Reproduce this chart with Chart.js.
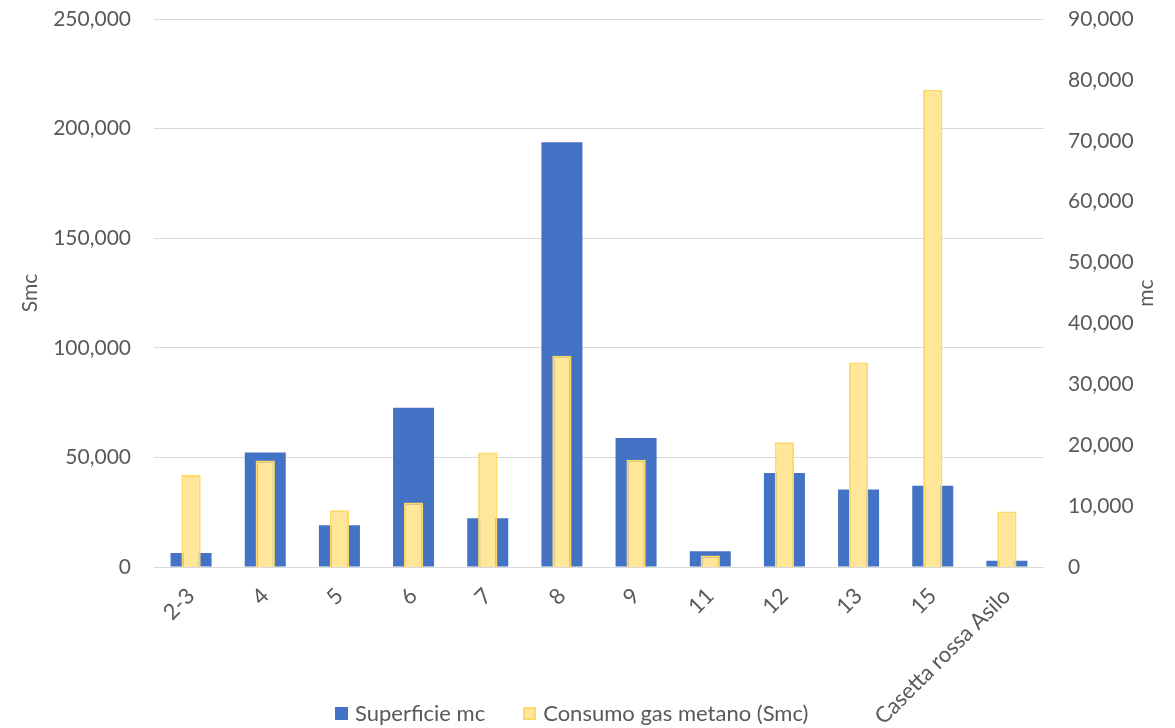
<!DOCTYPE html>
<html>
<head>
<meta charset="utf-8">
<script src="https://cdn.jsdelivr.net/npm/chart.js@4.4.1/dist/chart.umd.min.js"></script>
<style>
    html, body { margin: 0; padding: 0; background: #fff; }
    #wrap { position: relative; width: 1175px; height: 728px; }
    #legend {
        position: absolute; left: 335px; top: 702px;
        display: flex; align-items: center;
        font: 22px/22px Lato, 'Open Sans', sans-serif; color: #595959;
    }
    #legend .item { display: flex; align-items: center; margin-right: 38px; }
    #legend .box { width: 13px; height: 13px; box-sizing: border-box; margin-right: 7px; }
</style>
</head>
<body>
<div id="wrap">
    <canvas id="chart" width="1175" height="728"></canvas>
    <div id="legend"></div>
</div>
<script>
// Edifici
const categories = ['2-3', '4', '5', '6', '7', '8', '9', '11', '12', '13', '15', 'Casetta rossa Asilo'];

// Serie
const superficieMc = [6400, 52200, 19000, 72700, 22200, 193800, 58900, 7200, 42900, 35300, 37100, 2900];
const consumoSmc = [15100, 17500, 9300, 10600, 18800, 34700, 17600, 1900, 20500, 33600, 78400, 9100];

// Assi
const leftAxis = { max: 250000, step: 50000, title: 'Smc' };
const rightAxis = { max: 90000, step: 10000, title: 'mc' };

const TEXT = '#595959';
const FAMILY = "Lato, 'Open Sans', sans-serif";
Chart.defaults.font.family = FAMILY;
Chart.defaults.font.size = 21;
Chart.defaults.color = TEXT;

/**
 * Right axis title, drawn bottom-to-top like the left one
 */
const rightTitlePlugin = {
    id: 'rightTitle',
    afterDraw(chart) {
        const s = chart.scales.y1;
        const area = chart.chartArea;
        const ctx = chart.ctx;
        ctx.save();
        ctx.translate(s.right - 3, (area.top + area.bottom) / 2);
        ctx.rotate(-Math.PI / 2);
        ctx.font = `21px ${FAMILY}`;
        ctx.fillStyle = TEXT;
        ctx.textAlign = 'center';
        ctx.textBaseline = 'middle';
        ctx.fillText(rightAxis.title, 0, 0);
        ctx.restore();
    }
};

// y axes: no extra padding above/below the plot
function fitVertical(width) {
    return scale => {
        scale.width = width;
        scale.paddingTop = 0;
        scale.paddingBottom = 0;
    };
}

const chart = new Chart(document.getElementById('chart'), {
    type: 'bar',
    data: {
        labels: categories,
        datasets: [{
            label: 'Superficie mc',
            data: superficieMc,
            yAxisID: 'y',
            backgroundColor: '#4472c4',
            borderWidth: 0,
            barPercentage: 0.553,
            categoryPercentage: 1,
            grouped: false,
            order: 1
        }, {
            label: 'Consumo gas metano (Smc)',
            data: consumoSmc,
            yAxisID: 'y1',
            backgroundColor: '#ffe699',
            borderColor: '#ffd966',
            borderWidth: 2,
            barPercentage: 0.26,
            categoryPercentage: 1,
            grouped: false,
            order: 0
        }]
    },
    options: {
        responsive: false,
        animation: false,
        locale: 'en-US',
        layout: { padding: { top: 19, right: 26, bottom: 0, left: 0 } },
        plugins: {
            tooltip: { enabled: false },
            legend: { display: false }
        },
        scales: {
            x: {
                grid: { display: false, drawTicks: false },
                border: { display: false },
                ticks: {
                    minRotation: 45, maxRotation: 45, autoSkip: false, padding: 16,
                    font: { size: 22 }
                },
                afterFit(scale) { scale.height = 161; }
            },
            y: {
                position: 'left',
                min: 0,
                max: leftAxis.max,
                ticks: { stepSize: leftAxis.step, padding: 23 },
                grid: { color: '#d9d9d9', lineWidth: 1, drawTicks: false },
                border: { display: false },
                title: { display: true, text: leftAxis.title, padding: { top: 18 } },
                afterFit: fitVertical(154)
            },
            y1: {
                position: 'right',
                min: 0,
                max: rightAxis.max,
                ticks: { stepSize: rightAxis.step, padding: 24 },
                grid: { display: false, drawTicks: false },
                border: { display: false },
                afterFit: fitVertical(105)
            }
        }
    },
    plugins: [rightTitlePlugin]
});

// Legend below the chart
const legend = document.getElementById('legend');
chart.data.datasets.forEach(ds => {
    const item = document.createElement('div');
    item.className = 'item';
    const box = document.createElement('span');
    box.className = 'box';
    box.style.background = ds.backgroundColor;
    if (ds.borderWidth) box.style.border = `${ds.borderWidth}px solid ${ds.borderColor}`;
    const text = document.createElement('span');
    text.textContent = ds.label;
    item.appendChild(box);
    item.appendChild(text);
    legend.appendChild(item);
});
</script>
</body>
</html>
